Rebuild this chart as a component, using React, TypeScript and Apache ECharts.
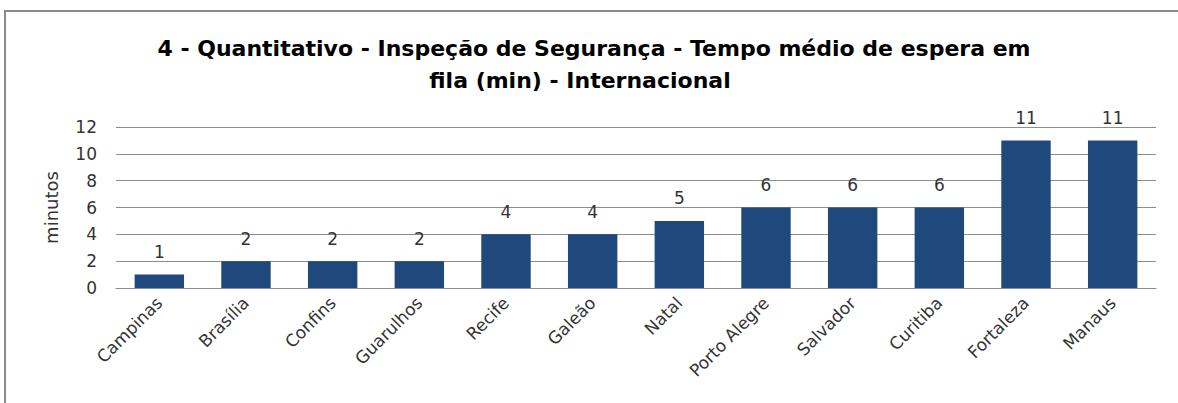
import React, { useEffect, useRef } from "react";
import * as echarts from "echarts";

const titleLines = [
  "4 - Quantitativo - Inspeção de Segurança - Tempo médio de espera em",
  "fila (min) - Internacional",
];
const yAxisName = "minutos";
const categories = [
  "Campinas",
  "Brasília",
  "Confins",
  "Guarulhos",
  "Recife",
  "Galeão",
  "Natal",
  "Porto Alegre",
  "Salvador",
  "Curitiba",
  "Fortaleza",
  "Manaus",
];
const values = [1, 2, 2, 2, 4, 4, 5, 6, 6, 6, 11, 11];
const yMin = 0;
const yMax = 12;
const yInterval = 2;

const FONT = "'DejaVu Sans', 'Noto Sans', sans-serif";

export default function App() {
  const ref = useRef<HTMLDivElement>(null);
  useEffect(() => {
    if (!ref.current) return;
    const chart = echarts.init(ref.current, undefined, { renderer: "svg" });
    const titleStyle = {
      fontFamily: FONT,
      fontWeight: "bold",
      fontSize: 22,
      fill: "#000000",
      align: "center",
      verticalAlign: "middle",
    };
    chart.setOption({
      animation: false,
      backgroundColor: "#ffffff",
      graphic: [
        {
          type: "rect",
          shape: { x: 5, y: 11, width: 1300, height: 600 },
          style: { fill: "none", stroke: "#8a8a8a", lineWidth: 2 },
          silent: true,
        },
        {
          type: "text",
          x: 594,
          y: 48,
          style: { ...titleStyle, text: titleLines[0] },
          silent: true,
        },
        {
          type: "text",
          x: 580,
          y: 80,
          style: { ...titleStyle, text: titleLines[1] },
          silent: true,
        },
      ],
      grid: { left: 116, right: 22, top: 127, bottom: 115, containLabel: false },
      xAxis: {
        type: "category",
        data: categories,
        axisLine: { show: true, lineStyle: { color: "#8c8c8c", width: 1 } },
        axisTick: { show: false },
        axisLabel: {
          rotate: 45,
          interval: 0,
          margin: 12,
          fontFamily: FONT,
          fontSize: 17,
          color: "#333333",
        },
      },
      yAxis: {
        type: "value",
        min: yMin,
        max: yMax,
        interval: yInterval,
        name: yAxisName,
        nameLocation: "middle",
        nameGap: 56,
        nameRotate: 90,
        nameTextStyle: { fontFamily: FONT, fontSize: 18, color: "#333333" },
        axisLine: { show: false },
        axisTick: { show: false },
        axisLabel: {
          margin: 19,
          fontFamily: FONT,
          fontSize: 17,
          color: "#333333",
        },
        splitLine: { lineStyle: { color: "#8c8c8c", width: 1 } },
      },
      series: [
        {
          type: "bar",
          data: values,
          barWidth: "57%",
          itemStyle: { color: "#1F497D" },
          label: {
            show: true,
            position: "top",
            distance: 14,
            fontFamily: FONT,
            fontSize: 17,
            color: "#333333",
          },
        },
      ],
    });
    return () => chart.dispose();
  }, []);
  return (
    <div
      ref={ref}
      style={{ position: "fixed", left: 0, top: 0, width: 1178, height: 403 }}
    />
  );
}
